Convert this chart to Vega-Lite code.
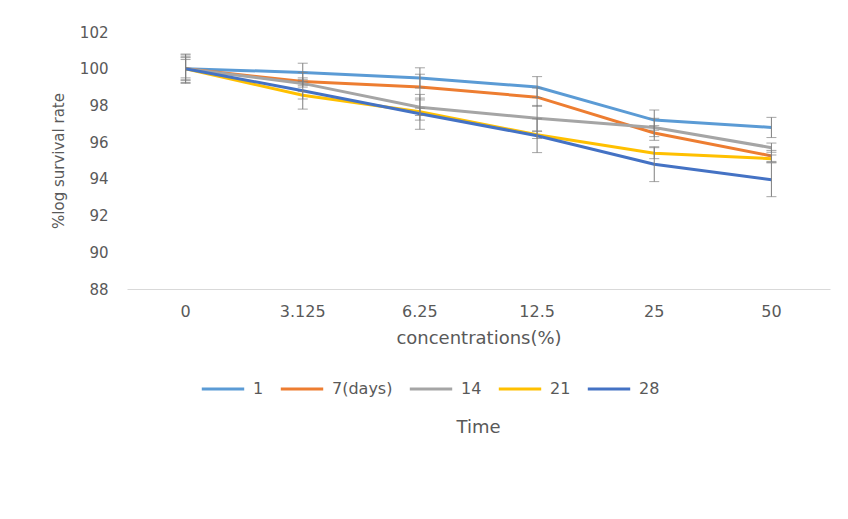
{
  "$schema": "https://vega.github.io/schema/vega-lite/v6.json",
  "width": 703,
  "height": 257,
  "autosize": {"type": "none"},
  "padding": {"left": 127, "top": 32, "right": 18, "bottom": 230},
  "background": "white",
  "config": {
    "view": {"stroke": null},
    "font": "DejaVu Sans",
    "axis": {"labelFont": "DejaVu Sans", "titleFont": "DejaVu Sans", "labelColor": "#595959", "titleColor": "#595959", "titleFontWeight": "normal"},
    "axisY": {"titleFontSize": 15, "labelFontSize": 15, "values": [88, 90, 92, 94, 96, 98, 100, 102], "labelOverlap": false, "labelBound": false, "grid": false, "domain": false, "ticks": false, "labelPadding": 19, "titlePadding": 13}
  },
  "title": {"text": "Time", "orient": "bottom", "fontSize": 18, "fontWeight": "normal", "color": "#595959", "font": "DejaVu Sans", "offset": 22},
  "data": {
    "values": [
      {"conc": "0", "series": "1", "value": 100, "lo": 99.25, "hi": 100.75},
      {"conc": "3.125", "series": "1", "value": 99.8, "lo": 99.3, "hi": 100.3},
      {"conc": "6.25", "series": "1", "value": 99.5, "lo": 98.95, "hi": 100.05},
      {"conc": "12.5", "series": "1", "value": 99.0, "lo": 98.43, "hi": 99.57},
      {"conc": "25", "series": "1", "value": 97.2, "lo": 96.65, "hi": 97.75},
      {"conc": "50", "series": "1", "value": 96.8, "lo": 96.25, "hi": 97.35},
      {"conc": "0", "series": "7(days)", "value": 100, "lo": 99.4, "hi": 100.6},
      {"conc": "3.125", "series": "7(days)", "value": 99.3, "lo": 99.1, "hi": 99.5},
      {"conc": "6.25", "series": "7(days)", "value": 99.0, "lo": 98.3, "hi": 99.7},
      {"conc": "12.5", "series": "7(days)", "value": 98.45, "lo": 97.95, "hi": 98.95},
      {"conc": "25", "series": "7(days)", "value": 96.5, "lo": 96.1, "hi": 96.9},
      {"conc": "50", "series": "7(days)", "value": 95.25, "lo": 94.95, "hi": 95.55},
      {"conc": "0", "series": "14", "value": 100, "lo": 99.35, "hi": 100.65},
      {"conc": "3.125", "series": "14", "value": 99.2, "lo": 99.0, "hi": 99.4},
      {"conc": "6.25", "series": "14", "value": 97.9, "lo": 97.2, "hi": 98.6},
      {"conc": "12.5", "series": "14", "value": 97.3, "lo": 96.6, "hi": 98.0},
      {"conc": "25", "series": "14", "value": 96.8, "lo": 96.3, "hi": 97.3},
      {"conc": "50", "series": "14", "value": 95.7, "lo": 95.45, "hi": 95.95},
      {"conc": "0", "series": "21", "value": 100, "lo": 99.5, "hi": 100.5},
      {"conc": "3.125", "series": "21", "value": 98.55, "lo": 98.35, "hi": 98.75},
      {"conc": "6.25", "series": "21", "value": 97.65, "lo": 97.45, "hi": 97.85},
      {"conc": "12.5", "series": "21", "value": 96.4, "lo": 96.2, "hi": 96.6},
      {"conc": "25", "series": "21", "value": 95.4, "lo": 95.1, "hi": 95.7},
      {"conc": "50", "series": "21", "value": 95.1, "lo": 94.9, "hi": 95.3},
      {"conc": "0", "series": "28", "value": 100, "lo": 99.2, "hi": 100.8},
      {"conc": "3.125", "series": "28", "value": 98.8, "lo": 97.8, "hi": 99.8},
      {"conc": "6.25", "series": "28", "value": 97.55, "lo": 96.7, "hi": 98.4},
      {"conc": "12.5", "series": "28", "value": 96.35, "lo": 95.43, "hi": 97.27},
      {"conc": "25", "series": "28", "value": 94.8, "lo": 93.85, "hi": 95.75},
      {"conc": "50", "series": "28", "value": 93.95, "lo": 93.03, "hi": 94.87}
    ]
  },
  "encoding": {
    "x": {
      "field": "conc", "type": "nominal",
      "sort": ["0", "3.125", "6.25", "12.5", "25", "50"],
      "title": "concentrations(%)",
      "axis": {"labelAngle": 0, "titleFontSize": 18, "labelFontSize": 16, "ticks": false, "domainColor": "#D9D9D9", "domainWidth": 1, "labelPadding": 14, "titlePadding": 10}
    }
  },
  "layer": [
    {
      "mark": {"type": "line", "strokeWidth": 3},
      "encoding": {
        "y": {
          "field": "value", "type": "quantitative",
          "title": "%log survival rate",
          "scale": {"domain": [88, 102], "nice": false, "zero": false}
        },
        "color": {
          "field": "series", "type": "nominal",
          "sort": ["1", "7(days)", "14", "21", "28"],
          "scale": {"domain": ["1", "7(days)", "14", "21", "28"], "range": ["#5B9BD5", "#ED7D31", "#A5A5A5", "#FFC000", "#4472C4"]},
          "legend": {"orient": "none", "legendX": 73, "legendY": 334, "direction": "horizontal", "title": null, "symbolType": "stroke", "symbolSize": 1800, "symbolStrokeWidth": 3, "labelFontSize": 16, "labelColor": "#595959", "labelFont": "DejaVu Sans", "columnPadding": 10, "labelOffset": 7}
        }
      }
    },
    {
      "mark": {"type": "errorbar", "ticks": {"size": 10, "color": "#7F7F7F", "strokeWidth": 1}, "rule": {"color": "#7F7F7F", "strokeWidth": 1}},
      "encoding": {
        "y": {"field": "lo", "type": "quantitative", "title": "%log survival rate"},
        "y2": {"field": "hi"},
        "detail": {"field": "series"}
      }
    }
  ]
}
